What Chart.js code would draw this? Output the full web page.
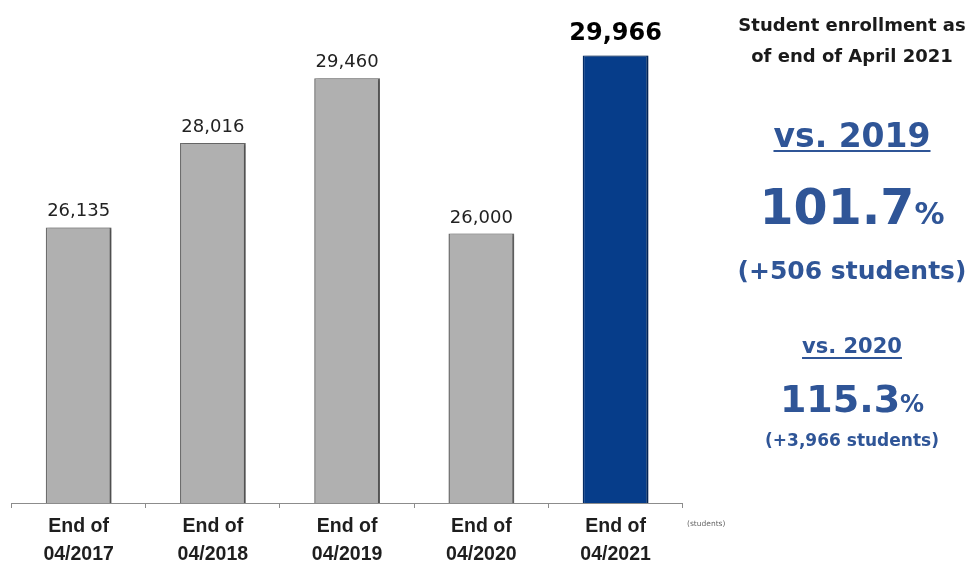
<!DOCTYPE html>
<html>
<head>
<meta charset="utf-8">
<script src="https://cdn.jsdelivr.net/npm/chart.js@4.4.1/dist/chart.umd.min.js"></script>
<style>
  html, body { margin: 0; padding: 0; background: #fff; }
  #wrap { position: relative; width: 968px; height: 563px; overflow: hidden; }
  #wrap canvas { position: absolute; left: 0; top: 0; }
  .t {
    position: absolute; left: 727px; width: 250px; text-align: center;
    line-height: 1; white-space: nowrap;
    font-family: "DejaVu Sans", Verdana, sans-serif; font-weight: bold; color: #2f5597;
  }
  .negro { color: #1a1a1a; }
  .sub { text-decoration: underline; text-decoration-thickness: 2px; }
  #unidad {
    position: absolute; left: 687px; top: 520px; line-height: 8px;
    font-family: "DejaVu Sans", sans-serif; font-size: 7.5px; color: #666;
  }
</style>
</head>
<body>
<div id="wrap">
  <canvas id="grafico" width="968" height="563"></canvas>

  <div class="t negro" style="top:15.8px; font-size:18px;">Student enrollment as</div>
  <div class="t negro" style="top:46.5px; font-size:18px;">of end of April 2021</div>

  <div class="t sub" style="top:118.8px; font-size:33px; text-underline-offset:3px;">vs. 2019</div>
  <div class="t" style="top:182.5px; font-size:49px;">101.7<span style="font-size:30px;">%</span></div>
  <div class="t" style="top:258px; font-size:25px;">(+506 students)</div>

  <div class="t sub" style="top:335.5px; font-size:21px; text-underline-offset:3.5px;">vs. 2020</div>
  <div class="t" style="top:379.5px; font-size:38px;">115.3<span style="font-size:24px;">%</span></div>
  <div class="t" style="top:431.6px; font-size:17px;">(+3,966 students)</div>

  <div id="unidad">(students)</div>
</div>

<script>
const categorias = [
  ["End of", "04/2017"],
  ["End of", "04/2018"],
  ["End of", "04/2019"],
  ["End of", "04/2020"],
  ["End of", "04/2021"]
];
const alumnos = [26135, 28016, 29460, 26000, 29966];
const destacado = 4;

const colorGris = '#b0b0b0';
const bordeGris = '#6f6f6f';
const colorAzul = '#063d8a';
const bordeAzul = '#042c66';

// sombra suave a la derecha de cada barra
const sombra = {
  id: 'sombra',
  beforeDatasetDraw(chart) {
    const c = chart.ctx;
    c.save();
    c.shadowColor = 'rgba(0,0,0,0.35)';
    c.shadowBlur = 3;
    c.shadowOffsetX = 2;
    c.shadowOffsetY = 0;
  },
  afterDatasetDraw(chart) {
    chart.ctx.restore();
  }
};

// valores encima de las barras
const etiquetasValor = {
  id: 'etiquetasValor',
  afterDatasetsDraw(chart) {
    const ctx = chart.ctx;
    const meta = chart.getDatasetMeta(0);
    ctx.save();
    ctx.textAlign = 'center';
    ctx.textBaseline = 'alphabetic';
    meta.data.forEach((barra, i) => {
      const esDestacado = i === destacado;
      ctx.font = esDestacado ? 'bold 24px "DejaVu Sans"' : '18px "DejaVu Sans"';
      ctx.fillStyle = esDestacado ? '#000' : '#222';
      ctx.fillText(alumnos[i].toLocaleString('en-US'), barra.x, barra.y - (esDestacado ? 15 : 11));
    });
    ctx.restore();
  }
};

const ctx = document.getElementById('grafico').getContext('2d');
new Chart(ctx, {
  type: 'bar',
  data: {
    labels: categorias,
    datasets: [{
      data: alumnos,
      backgroundColor: alumnos.map((v, i) => i === destacado ? colorAzul : colorGris),
      borderColor: alumnos.map((v, i) => i === destacado ? bordeAzul : bordeGris),
      borderWidth: { top: 1, left: 1.5, right: 2, bottom: 0 },
      borderSkipped: 'bottom',
      barPercentage: 0.49,
      categoryPercentage: 1
    }]
  },
  options: {
    responsive: false,
    animation: false,
    layout: { padding: { left: 11.5, right: 285.3, top: 0, bottom: 0 } },
    plugins: {
      legend: { display: false },
      tooltip: { enabled: false }
    },
    scales: {
      x: {
        afterFit(scale) { scale.height = 60; },
        grid: {
          display: true,
          drawOnChartArea: false,
          drawTicks: true,
          tickLength: 5,
          color: '#8c8c8c',
          offset: true
        },
        border: { display: true, color: '#8c8c8c', width: 1 },
        ticks: {
          color: '#1e1e1e',
          padding: 4.5,
          maxRotation: 0,
          font: { family: '"Liberation Sans", Arial, sans-serif', weight: 'bold', size: 19.5, lineHeight: 1.44 }
        }
      },
      y: {
        display: false,
        min: 20000,
        max: 31200
      }
    }
  },
  plugins: [sombra, etiquetasValor]
});
</script>
</body>
</html>
